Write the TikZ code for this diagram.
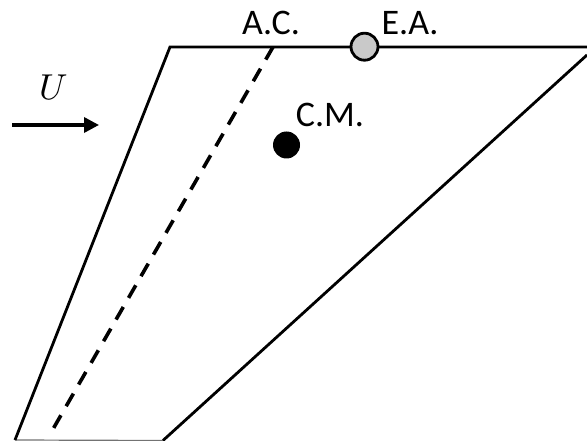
\documentclass[tikz,border=0pt]{standalone}
\usepackage{fontspec}
\setmainfont{Carlito}
\usepackage{unicode-math}
\setmathfont{Latin Modern Math}
\usetikzlibrary{arrows.meta}
\tikzset{
  edgeline/.style={line width=2.8pt,black},
  bottomline/.style={line width=1.2pt,black!55},
  dashline/.style={line width=3.6pt,black,dash pattern=on 14.5pt off 10.5pt},
  flow/.style={line width=3.4pt,black,-{Triangle[length=15pt,width=15pt]}},
  lab/.style={inner sep=0pt,font=\fontsize{36}{36}\selectfont},
  hinge/.style={circle,draw=black,line width=2.8pt,fill=black!21,minimum size=27pt,inner sep=0pt},
  mass/.style={circle,fill=black,minimum size=27pt,inner sep=0pt}
}
\begin{document}
\begin{tikzpicture}[x=1pt,y=-1pt]
\useasboundingbox (0,0) rectangle (587,441);
\clip (0,0) rectangle (587,441);
\fill[white] (0,0) rectangle (587,441);
\coordinate (tl) at (170,47);
\coordinate (tr) at (587,47);
\coordinate (bl) at (15,440);
\coordinate (br) at (163,440.5);
\coordinate (re) at (587,55);
\coordinate (act) at (273,47);
\coordinate (acb) at (49,436);
\coordinate (us) at (12,125);
\coordinate (ue) at (99,125);
\draw[bottomline] (bl) -- (br);
\draw[edgeline,line join=miter] (bl) -- (tl) -- (tr);
\draw[edgeline] (br) -- (re);
\draw[dashline] (act) -- (acb);
\node[hinge] (ea) at (364.5,46.7) {};
\node[mass] (cm) at (286.5,145) {};
\draw[flow] (us) -- (ue);
\node[lab,anchor=base] (aclab) at (271,35) {A.C.};
\node[lab,anchor=base] (ealab) at (410,35) {E.A.};
\node[lab,anchor=base] (cmlab) at (330,127) {C.M.};
\node[inner sep=0pt,anchor=base,font=\fontsize{36}{36}\selectfont] (ulab) at (54,100) {$U$};
\end{tikzpicture}
\end{document}
